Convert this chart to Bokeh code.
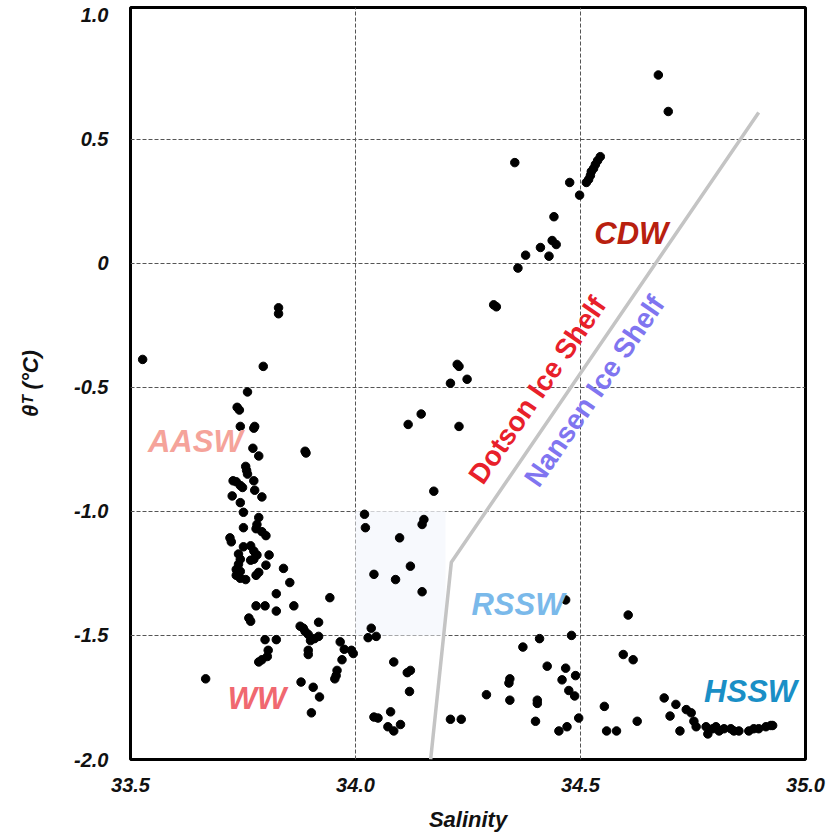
import math
from bokeh.plotting import figure
from bokeh.models import ColumnDataSource, FixedTicker, Range1d, CustomJSTickFormatter
from bokeh.core.properties import value
from bokeh.embed import file_html
from bokeh.resources import INLINE

# ---------------- data ----------------
salinity = [
    34.673, 34.695, 34.544, 34.538, 34.533, 34.529, 34.524, 34.522, 34.518, 34.513,
    34.476, 34.498, 34.354, 34.441, 34.437, 34.446, 34.411, 34.378, 34.430, 34.361,
    34.307, 34.313, 34.226, 34.230, 34.211, 34.248, 34.146, 34.117, 34.230, 34.174,
    34.020, 34.022, 34.152, 34.148, 34.098, 34.122, 34.041, 34.089, 34.148, 34.035,
    34.028, 34.046, 34.085, 34.115, 34.122, 34.120, 34.041, 34.050, 34.078, 34.072,
    34.085, 34.100, 34.211, 34.235, 34.291, 34.343, 34.341, 34.343, 34.372, 34.409,
    34.426, 34.404, 34.404, 34.400, 34.467, 34.480, 34.467, 34.489, 34.459, 34.474,
    34.487, 34.496, 34.452, 34.470, 34.606, 34.595, 34.617, 34.553, 34.558, 34.580,
    34.626, 34.686, 34.712, 34.699, 34.735, 34.746, 34.721, 34.752, 34.757, 34.779,
    34.783, 34.794, 34.801, 34.808, 34.819, 34.834, 34.841, 34.852, 34.874, 34.885,
    34.896, 34.912, 34.923, 34.927,
    33.527, 33.829, 33.829, 33.795, 33.760, 33.737, 33.742, 33.744, 33.776, 33.774,
    33.772, 33.785, 33.888, 33.890, 33.756, 33.758, 33.760, 33.728, 33.735, 33.744,
    33.749, 33.774, 33.776, 33.792, 33.726, 33.744, 33.751, 33.785, 33.781, 33.779,
    33.751, 33.792, 33.801, 33.721, 33.724, 33.751, 33.767, 33.774, 33.781, 33.774,
    33.767, 33.740, 33.744, 33.740, 33.735, 33.744, 33.808, 33.801, 33.735, 33.744,
    33.756, 33.785, 33.779, 33.840, 33.854, 33.824, 33.779, 33.799, 33.863, 33.824,
    33.943, 33.763, 33.767, 33.918, 33.877, 33.884, 33.888, 33.895, 33.909, 33.918,
    33.799, 33.824, 33.900, 33.895, 33.895, 33.806, 33.804, 33.792, 33.785, 33.966,
    33.975, 33.991, 33.995, 33.970, 33.959, 33.957, 33.954, 33.667, 33.879, 33.906,
    33.920, 33.902,
]
theta = [
    0.758, 0.611, 0.429, 0.413, 0.397, 0.381, 0.369, 0.353, 0.337, 0.325,
    0.325, 0.274, 0.405, 0.187, 0.091, 0.075, 0.063, 0.032, 0.028, -0.020,
    -0.168, -0.176, -0.408, -0.416, -0.484, -0.468, -0.608, -0.650, -0.658, -0.919,
    -1.012, -1.066, -1.033, -1.053, -1.107, -1.221, -1.254, -1.275, -1.324, -1.471,
    -1.509, -1.504, -1.607, -1.650, -1.641, -1.726, -1.829, -1.833, -1.808, -1.868,
    -1.885, -1.859, -1.838, -1.838, -1.739, -1.675, -1.692, -1.761, -1.547, -1.513,
    -1.624, -1.761, -1.774, -1.846, -1.357, -1.500, -1.632, -1.662, -1.679, -1.722,
    -1.744, -1.833, -1.885, -1.868, -1.418, -1.577, -1.598, -1.786, -1.885, -1.885,
    -1.846, -1.752, -1.778, -1.825, -1.799, -1.812, -1.885, -1.846, -1.868, -1.868,
    -1.897, -1.876, -1.868, -1.885, -1.876, -1.876, -1.885, -1.885, -1.885, -1.876,
    -1.876, -1.868, -1.863, -1.863,
    -0.388, -0.180, -0.204, -0.416, -0.519, -0.581, -0.592, -0.658, -0.658, -0.665,
    -0.746, -0.777, -0.758, -0.765, -0.819, -0.835, -0.850, -0.877, -0.881, -0.896,
    -0.904, -0.877, -0.915, -0.942, -0.938, -0.965, -1.004, -1.025, -1.053, -1.070,
    -1.066, -1.082, -1.098, -1.107, -1.123, -1.143, -1.139, -1.160, -1.176, -1.193,
    -1.197, -1.172, -1.193, -1.213, -1.234, -1.242, -1.176, -1.217, -1.258, -1.270,
    -1.275, -1.246, -1.258, -1.230, -1.287, -1.332, -1.381, -1.381, -1.381, -1.402,
    -1.348, -1.430, -1.443, -1.447, -1.463, -1.471, -1.484, -1.496, -1.513, -1.504,
    -1.517, -1.517, -1.521, -1.560, -1.577, -1.560, -1.585, -1.598, -1.607, -1.526,
    -1.556, -1.560, -1.573, -1.598, -1.641, -1.662, -1.675, -1.675, -1.688, -1.709,
    -1.748, -1.812,
]

boundary_salinity = [34.167, 34.213, 34.896]
boundary_theta = [-2.0, -1.205, 0.607]

shade_salinity = [34.0, 34.2]
shade_theta = [-1.5, -1.0]

x_ticks = [33.5, 34.0, 34.5, 35.0]
y_ticks = [-2.0, -1.5, -1.0, -0.5, 0.0, 0.5, 1.0]
x_grid = [34.0, 34.5]
y_grid = [-1.5, -1.0, -0.5, 0.0, 0.5]

water_mass_names = ["CDW", "AASW", "WW", "RSSW", "HSSW"]
water_mass_salinity = [34.613, 33.644, 33.781, 34.361, 34.878]
water_mass_theta = [0.119, -0.719, -1.756, -1.377, -1.726]
water_mass_colors = ["#b8200f", "#f5a39a", "#f06870", "#7ab9ea", "#1a8fc6"]

shelf_names = ["Dotson Ice Shelf", "Nansen Ice Shelf"]
shelf_salinity = [34.404, 34.531]
shelf_theta = [-0.512, -0.515]
shelf_colors = ["#e8202a", "#8075f0"]

# ---------------- figure ----------------
FONT = "Liberation Sans"

p = figure(width=833, height=837,
           x_range=Range1d(33.5, 35.0), y_range=Range1d(-2.0, 1.03),
           output_backend="svg", toolbar_location=None,
           min_border_left=130, min_border_right=28,
           min_border_top=7, min_border_bottom=78)
p.background_fill_color = "white"
p.border_fill_color = "white"
p.outline_line_color = "black"
p.outline_line_width = 3

p.quad(left=[shade_salinity[0]], right=[shade_salinity[1]],
       bottom=[shade_theta[0]], top=[shade_theta[1]],
       fill_color="#f7f9fd", line_color=None)

p.line(boundary_salinity, boundary_theta, line_color="#c4c4c4", line_width=3.5)

p.scatter(salinity, theta, size=8.5, color="black")

wm_src = ColumnDataSource(dict(x=water_mass_salinity, y=water_mass_theta,
                               t=water_mass_names, c=water_mass_colors))
p.text(x="x", y="y", text="t", text_color="c", source=wm_src,
       text_font=value(FONT), text_font_size="31px", text_font_style="bold italic",
       text_align="center", text_baseline="middle")

sh_src = ColumnDataSource(dict(x=shelf_salinity, y=shelf_theta,
                               t=shelf_names, c=shelf_colors))
p.text(x="x", y="y", text="t", text_color="c", source=sh_src,
       angle=math.radians(55.5),
       text_font=value(FONT), text_font_size="28px", text_font_style="bold",
       text_align="center", text_baseline="middle")

# grid
p.xgrid.ticker = FixedTicker(ticks=x_grid)
p.ygrid.ticker = FixedTicker(ticks=y_grid)
for g in (p.xgrid, p.ygrid):
    g.grid_line_color = "#555555"
    g.grid_line_dash = "4 2"
    g.grid_line_width = 1

# axes
p.xaxis.ticker = FixedTicker(ticks=x_ticks)
p.yaxis.ticker = FixedTicker(ticks=y_ticks)
p.xaxis.formatter = CustomJSTickFormatter(code="return tick.toFixed(1);")
p.yaxis.formatter = CustomJSTickFormatter(
    code="return Math.abs(tick) < 1e-9 ? '0' : tick.toFixed(1);")
for ax in (p.xaxis, p.yaxis):
    ax.axis_line_color = None
    ax.major_tick_line_color = None
    ax.minor_tick_line_color = None
    ax.major_tick_out = 0
    ax.major_tick_in = 0
    ax.minor_tick_out = 0
    ax.major_label_text_font = FONT
    ax.major_label_text_font_size = "20px"
    ax.major_label_text_font_style = "bold italic"
    ax.major_label_text_color = "#111111"
    ax.axis_label_text_font = FONT
    ax.axis_label_text_font_size = "22px"
    ax.axis_label_text_font_style = "bold italic"
    ax.axis_label_text_color = "#111111"

p.xaxis.major_label_standoff = 18
p.yaxis.major_label_standoff = 22
p.xaxis.axis_label = "Salinity"
p.xaxis.axis_label_standoff = 12
p.yaxis.axis_label = "θᵀ (°C)"
p.yaxis.axis_label_standoff = 28

open("out.html", "w").write(file_html(p, INLINE))
